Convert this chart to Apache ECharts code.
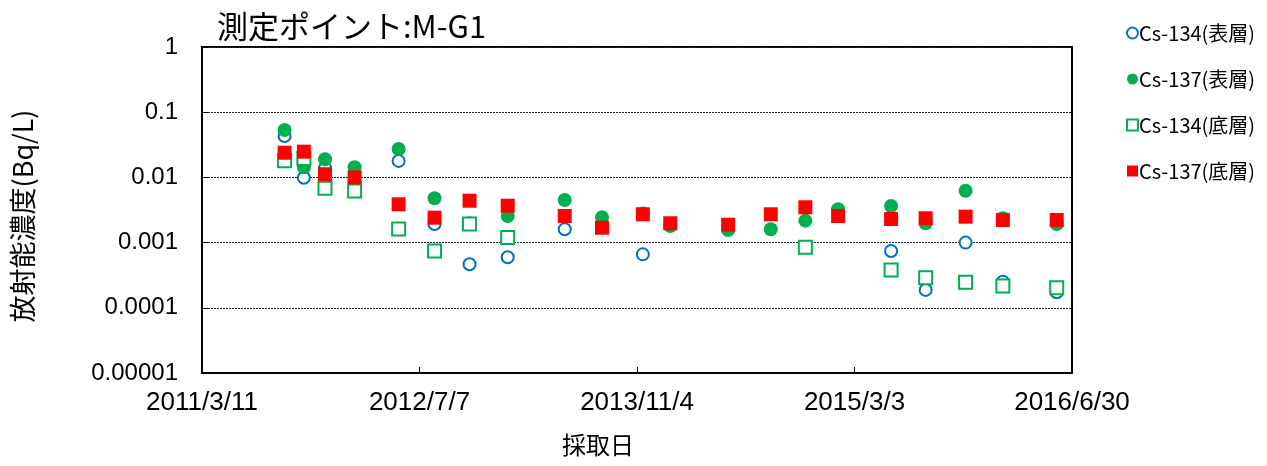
<!DOCTYPE html>
<html>
<head>
<meta charset="utf-8">
<script src="https://cdn.jsdelivr.net/npm/echarts@6/dist/echarts.min.js"></script>
<style>
html,body{margin:0;padding:0;background:#fff;}
#chart{width:1267px;height:466px;}
</style>
</head>
<body>
<div id="chart"></div>
<script>
// ---- data ----
const titleText = '測定ポイント:M-G1';
const yAxisName = '放射能濃度(Bq/L)';
const xAxisName = '採取日';
const seriesNames = ['Cs-134(表層)', 'Cs-137(表層)', 'Cs-134(底層)', 'Cs-137(底層)'];
const xTickLabels = ['2011/3/11', '2012/7/7', '2013/11/4', '2015/3/3', '2016/6/30'];
const yTickLabels = ['1', '0.1', '0.01', '0.001', '0.0001', '0.00001'];
const sampleDates = ['2011/9/11', '2011/10/24', '2011/12/10', '2012/2/14', '2012/5/22', '2012/8/10',
  '2012/10/27', '2013/1/20', '2013/5/27', '2013/8/18', '2013/11/17', '2014/1/17', '2014/5/26',
  '2014/8/29', '2014/11/14', '2015/1/26', '2015/5/24', '2015/8/9', '2015/11/6', '2016/1/28', '2016/5/27'];
const cs134Surface = [0.0432, 0.0099, 0.0138, 0.0086, 0.0179, 0.00193, 0.000465, 0.000595, 0.0016, null, 0.00066,
  null, null, null, null, null, 0.000744, 0.000188, 0.001, 0.000251, 0.000173];
const cs137Surface = [0.0533, 0.0143, 0.019, 0.0143, 0.0273, 0.00478, 0.00198, 0.00256, 0.0045, 0.00244, 0.0028,
  0.0018, 0.00156, 0.0016, 0.00217, 0.00324, 0.00364, 0.00198, 0.00625, 0.00236, 0.00193];
const cs134Bottom = [0.018, 0.0195, 0.0068, 0.0062, 0.00162, 0.000744, 0.00193, 0.0012, null, null, null,
  null, null, null, 0.000847, null, 0.00038, 0.00029, 0.000246, 0.000216, 0.000203];
const cs137Bottom = [0.0239, 0.0248, 0.0112, 0.0100, 0.00387, 0.00241, 0.00439, 0.00368, 0.00256, 0.00169, 0.00272,
  0.00198, 0.00188, 0.00272, 0.00348, 0.00256, 0.0023, 0.00236, 0.0025, 0.00222, 0.00222];

// ---- helpers ----
function dayNum(s) {
  const p = s.split('/').map(Number);
  return Date.UTC(p[0], p[1] - 1, p[2]) / 86400000;
}
const origin = dayNum(xTickLabels[0]);
const span = dayNum(xTickLabels[xTickLabels.length - 1]) - origin;
const xInterval = span / (xTickLabels.length - 1);
function pairs(vals) {
  const out = [];
  sampleDates.forEach((d, i) => { if (vals[i] != null) out.push([dayNum(d) - origin, vals[i]]); });
  return out;
}

const numFont = 'Liberation Sans, Arial, sans-serif';
const jpFont = 'Noto Sans CJK JP, sans-serif';

const chart = echarts.init(document.getElementById('chart'), null, {renderer: 'canvas'});
chart.setOption({
  animation: false,
  backgroundColor: '#fff',
  title: {
    text: titleText, left: 212, top: 6,
    textStyle: {fontFamily: jpFont, fontSize: 31, fontWeight: 'normal', color: '#000'}
  },
  legend: {
    orient: 'vertical', left: 1121, top: 18,
    itemWidth: 11, itemHeight: 11, itemGap: 26,
    textStyle: {fontFamily: jpFont, fontSize: 20, color: '#000', padding: [0, 0, 0, -4]},
    data: seriesNames
  },
  grid: {
    left: 202, right: 195, top: 47, bottom: 93,
    show: true, borderColor: '#000', borderWidth: 2, backgroundColor: 'transparent'
  },
  xAxis: {
    type: 'value', min: 0, max: span, interval: xInterval,
    name: xAxisName, nameLocation: 'middle', nameGap: 60,
    nameTextStyle: {fontFamily: jpFont, fontSize: 24, color: '#000', padding: [0, 78, 0, 0]},
    axisLine: {show: true, lineStyle: {color: '#000', width: 2}},
    axisTick: {show: true, inside: true, length: 6, lineStyle: {color: '#000', width: 1}},
    splitLine: {show: false},
    axisLabel: {
      fontFamily: numFont, fontSize: 26, color: '#000', margin: 17,
      formatter: v => xTickLabels[Math.round(v / xInterval)]
    }
  },
  yAxis: {
    type: 'log', logBase: 10, min: 1e-5, max: 1, interval: 1,
    name: yAxisName, nameLocation: 'middle', nameGap: 166, nameRotate: 90,
    nameTextStyle: {fontFamily: jpFont, fontSize: 27, color: '#000', padding: [0, 12, 0, 0]},
    axisLine: {show: true, lineStyle: {color: '#000', width: 2}},
    axisTick: {show: true, inside: true, length: 6, lineStyle: {color: '#000', width: 1}},
    minorTick: {show: false},
    splitLine: {show: true, lineStyle: {color: '#222', type: [2, 1], width: 1}},
    axisLabel: {
      fontFamily: numFont, fontSize: 24, color: '#000', margin: 24,
      formatter: v => yTickLabels[Math.round(-Math.log10(v))]
    }
  },
  series: [
    {name: seriesNames[0], type: 'scatter', symbol: 'circle', symbolSize: 12,
      itemStyle: {color: '#fff', borderColor: '#0070C0', borderWidth: 2, opacity: 1},
      data: pairs(cs134Surface)},
    {name: seriesNames[1], type: 'scatter', symbol: 'circle', symbolSize: 14,
      itemStyle: {color: '#00B050', opacity: 1},
      data: pairs(cs137Surface)},
    {name: seriesNames[2], type: 'scatter', symbol: 'rect', symbolSize: 13,
      itemStyle: {color: '#fff', borderColor: '#00B050', borderWidth: 2, opacity: 1},
      data: pairs(cs134Bottom)},
    {name: seriesNames[3], type: 'scatter', symbol: 'rect', symbolSize: 14,
      itemStyle: {color: '#FF0000', opacity: 1},
      data: pairs(cs137Bottom)}
  ]
});
</script>
</body>
</html>
